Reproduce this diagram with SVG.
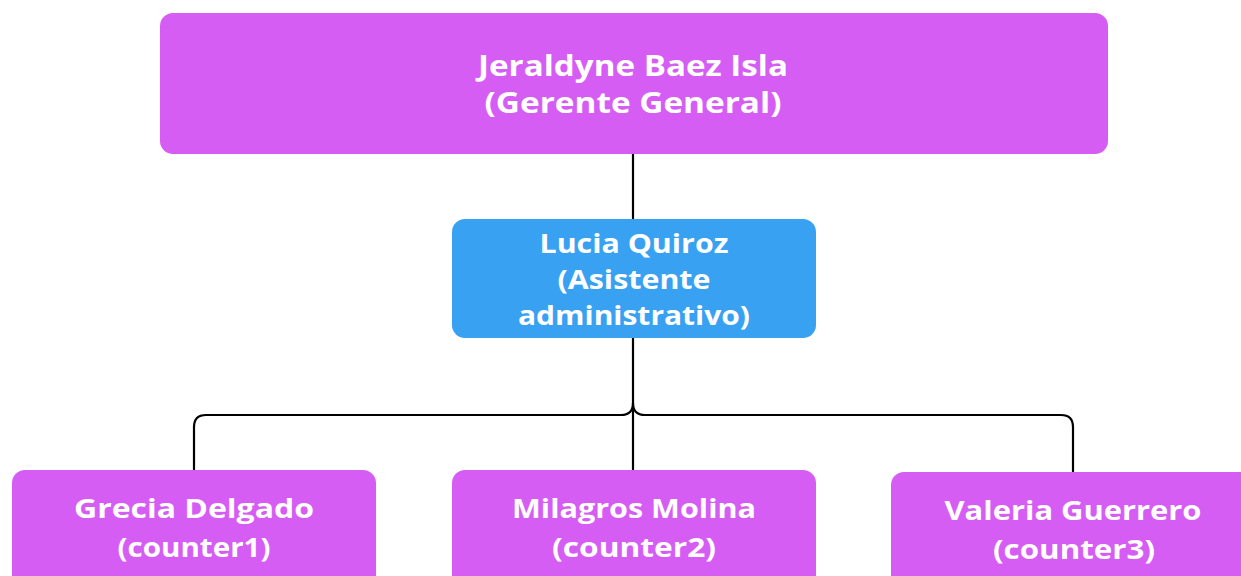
<svg xmlns="http://www.w3.org/2000/svg" width="1241" height="576" viewBox="0 0 1241 576">
<style>
.m{fill:#D65DF4}
.b{fill:#38A1F2}
.t{font-family:"Open Sans",Lato,"Liberation Sans",sans-serif;font-weight:700;fill:#fff;text-anchor:middle}
.c{fill:none;stroke:#000;stroke-width:2.2}
</style>
<rect width="1241" height="576" fill="#fff"/>
<g id="connectors">
<path class="c" d="M633,154 V219"/>
<path class="c" d="M633,338 V470"/>
<path class="c" d="M194,470 V427 Q194,415 206,415 H621 Q633,415 633,403 Q633,415 645,415 H1061 Q1073,415 1073,427 V472"/>
</g>
<g id="n1">
<rect class="m" x="160" y="13" width="948" height="141" rx="13"/>
<text class="t" font-size="29" x="633" y="76" textLength="310" lengthAdjust="spacingAndGlyphs">Jeraldyne Baez Isla</text>
<text class="t" font-size="29" x="633" y="113" textLength="297" lengthAdjust="spacingAndGlyphs">(Gerente General)</text>
</g>
<g id="n2">
<rect class="b" x="452" y="219" width="364" height="119" rx="13"/>
<text class="t" font-size="27" x="634" y="253" textLength="189" lengthAdjust="spacingAndGlyphs">Lucia Quiroz</text>
<text class="t" font-size="27" x="634" y="289" textLength="153" lengthAdjust="spacingAndGlyphs">(Asistente</text>
<text class="t" font-size="27" x="634" y="325" textLength="232" lengthAdjust="spacingAndGlyphs">administrativo)</text>
</g>
<g id="n3">
<rect class="m" x="12" y="470" width="364" height="130" rx="13"/>
<text class="t" font-size="27" x="194" y="518" textLength="240" lengthAdjust="spacingAndGlyphs">Grecia Delgado</text>
<text class="t" font-size="27" x="194" y="557" textLength="153" lengthAdjust="spacingAndGlyphs">(counter1)</text>
</g>
<g id="n4">
<rect class="m" x="452" y="470" width="364" height="130" rx="13"/>
<text class="t" font-size="27" x="634" y="518" textLength="244" lengthAdjust="spacingAndGlyphs">Milagros Molina</text>
<text class="t" font-size="27" x="634" y="557" textLength="164" lengthAdjust="spacingAndGlyphs">(counter2)</text>
</g>
<g id="n5">
<rect class="m" x="891" y="472" width="380" height="130" rx="13"/>
<text class="t" font-size="27" x="1073" y="520" textLength="257" lengthAdjust="spacingAndGlyphs">Valeria Guerrero</text>
<text class="t" font-size="27" x="1074" y="559" textLength="162" lengthAdjust="spacingAndGlyphs">(counter3)</text>
</g>
</svg>
